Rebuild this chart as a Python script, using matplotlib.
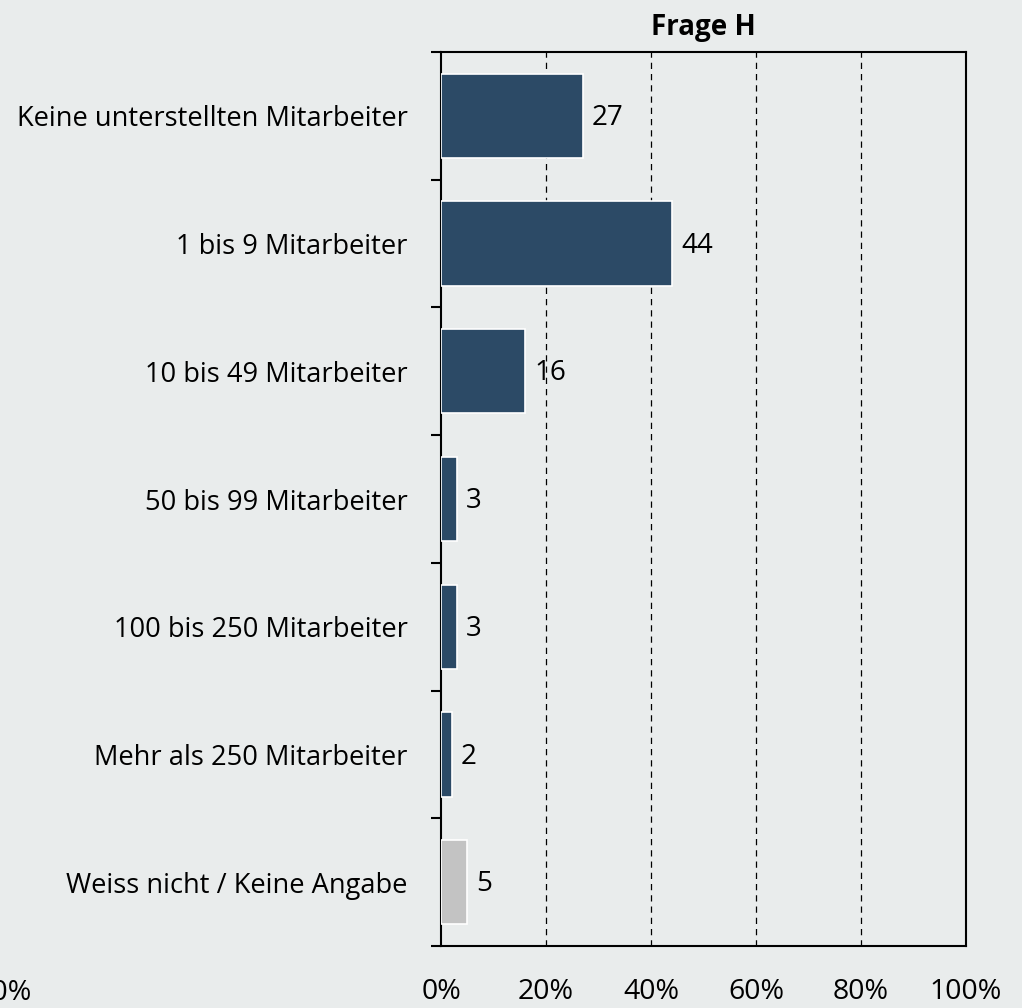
import numpy as np
import matplotlib
matplotlib.use('Agg')
import matplotlib.pyplot as plt

# Data
categories = [
    "Keine unterstellten Mitarbeiter",
    "1 bis 9 Mitarbeiter",
    "10 bis 49 Mitarbeiter",
    "50 bis 99 Mitarbeiter",
    "100 bis 250 Mitarbeiter",
    "Mehr als 250 Mitarbeiter",
    "Weiss nicht / Keine Angabe",
]
values = [27, 44, 16, 3, 3, 2, 5]
bar_colors = ["#2c4a66"] * 6 + ["#c3c3c3"]
x_ticks = [0, 20, 40, 60, 80, 100]
x_ticklabels = ["0%", "20%", "40%", "60%", "80%", "100%"]
title = "Frage H"

BG = "#e9ecec"
plt.rcParams['font.family'] = ['Open Sans', 'DejaVu Sans']

fig = plt.figure(figsize=(10.22, 10.08), dpi=100, facecolor=BG)
ax = fig.add_axes([441 / 1022, 1 - 946 / 1008, 525 / 1022, 894 / 1008])
ax.set_facecolor(BG)

pos = np.arange(len(categories)) + 0.5
ax.barh(pos, values, height=0.66, color=bar_colors, edgecolor='white',
        linewidth=1.2, zorder=3)

for p, v in zip(pos, values):
    ax.annotate(str(v), (v, p), xytext=(6.5, -1.5), textcoords='offset points',
                va='center', ha='left', fontsize=20, color='black', zorder=4)

ax.set_xlim(0, 100)
ax.set_ylim(len(categories), 0)

# gridlines
for x in x_ticks[1:-1]:
    ax.axvline(x, color='black', linewidth=0.9, linestyle=(0, (5, 4)), zorder=1)

ax.set_xticks(x_ticks)
ax.set_xticklabels(x_ticklabels, fontsize=20.5)
ax.tick_params(axis='x', length=0, pad=23)

ax.set_yticks(np.arange(len(categories) + 1))
ax.set_yticklabels([])
ax.set_yticks(pos, minor=True)
ax.set_yticklabels(categories, minor=True, fontsize=19.6)
ax.tick_params(axis='y', which='major', length=7, width=1.5, direction='out')
ax.tick_params(axis='y', which='minor', length=0, pad=24)

for s in ax.spines.values():
    s.set_linewidth(1.5)
    s.set_color('black')

ax.set_title(title, fontsize=20, fontweight='bold', pad=12)

# cut-off label from a neighbouring panel (partly outside, as in the reference)
fig.text(32 / 1022, 1 - 993 / 1008, "100%", ha='right', va='center', fontsize=20.5)

fig.savefig("out.png", dpi=100, facecolor=BG)
